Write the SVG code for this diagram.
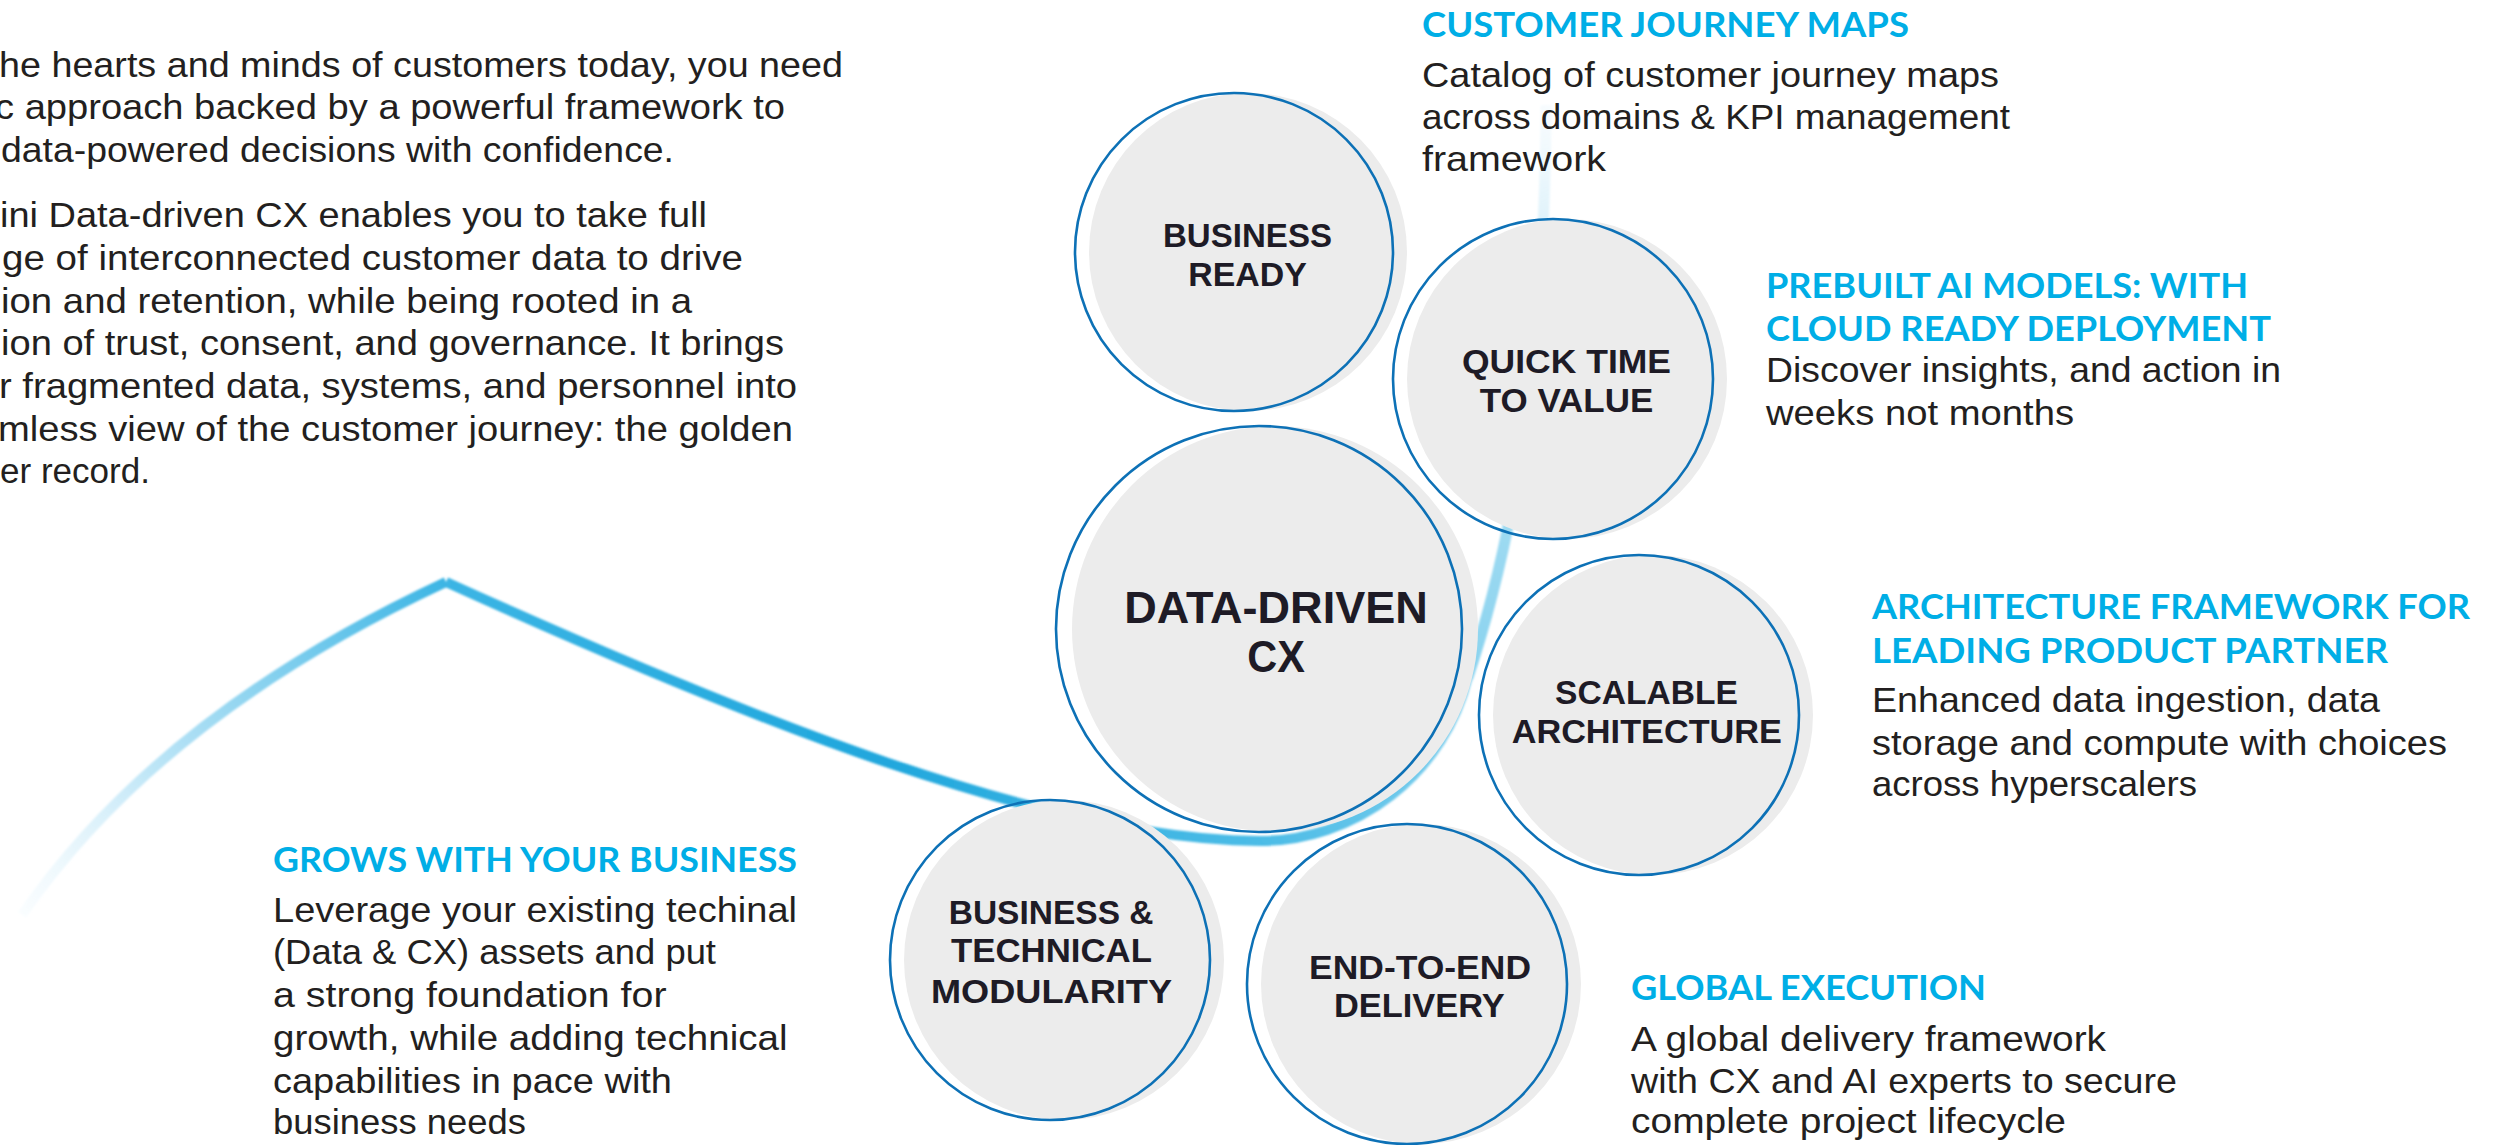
<svg xmlns="http://www.w3.org/2000/svg" width="2505" height="1145" viewBox="0 0 2505 1145">
<defs>
<style>
.p{font-family:"Liberation Sans","Noto Sans",sans-serif;font-size:35px;fill:#231f20;}
.h{font-family:Lato,"Liberation Sans",sans-serif;font-size:35px;font-weight:700;fill:#00aee6;}
.c{font-family:"Liberation Sans","Noto Sans",sans-serif;font-size:33.5px;font-weight:700;fill:#1e1b26;text-anchor:middle;}
.cl{font-size:44px;}
.shade{fill:#ececec;}
.ring{fill:none;stroke:#0d71b6;stroke-width:2.6;}
.sw{fill:none;stroke-linecap:butt;stroke-linejoin:round;}
</style>
<filter id="soft" x="-5%" y="-5%" width="110%" height="110%"><feGaussianBlur stdDeviation="0.9"/></filter>
<linearGradient id="gA" gradientUnits="userSpaceOnUse" x1="22" y1="915" x2="446" y2="582">
<stop offset="0" stop-color="#e6f5fc" stop-opacity="0.2"/>
<stop offset="0.35" stop-color="#bfe6f7"/>
<stop offset="1" stop-color="#3cb5e4"/>
</linearGradient>
<linearGradient id="gB" gradientUnits="userSpaceOnUse" x1="446" y1="582" x2="1259" y2="841">
<stop offset="0" stop-color="#3cb5e4"/>
<stop offset="0.55" stop-color="#20a7dd"/>
<stop offset="1" stop-color="#4cbce6"/>
</linearGradient>
<linearGradient id="gC" gradientUnits="userSpaceOnUse" x1="1259" y1="841" x2="1468" y2="678">
<stop offset="0" stop-color="#4cbce6"/>
<stop offset="1" stop-color="#8ad3ef"/>
</linearGradient>
<linearGradient id="gD" gradientUnits="userSpaceOnUse" x1="1468" y1="678" x2="1546" y2="105">
<stop offset="0" stop-color="#8ad3ef"/>
<stop offset="0.6" stop-color="#b6e3f5"/>
<stop offset="1" stop-color="#e6f5fc" stop-opacity="0.3"/>
</linearGradient>
</defs>

<g id="connectors" filter="url(#soft)">
<path class="sw" stroke="url(#gA)" stroke-width="10" d="M22 915 Q160 715 446 582"/>
<path class="sw" stroke="url(#gB)" stroke-width="10" d="M446 582 C750 720 1050 840 1259 841"/>
<path class="sw" stroke="url(#gC)" stroke-width="10" d="M1259 841 A215 215 0 0 0 1467.6 678"/>
<path class="sw" stroke="url(#gD)" stroke-width="11" d="M1467.6 678 Q1545 450 1546 105"/>
</g>

<g id="intro">
<text class="p" x="-1" y="77" textLength="844" lengthAdjust="spacingAndGlyphs">he hearts and minds of customers today, you need</text>
<text class="p" x="-5" y="119" textLength="790" lengthAdjust="spacingAndGlyphs">c approach backed by a powerful framework to</text>
<text class="p" x="1" y="162" textLength="673" lengthAdjust="spacingAndGlyphs">data-powered decisions with confidence.</text>
<text class="p" x="0" y="227" textLength="707" lengthAdjust="spacingAndGlyphs">ini Data-driven CX enables you to take full</text>
<text class="p" x="2" y="269.5" textLength="741" lengthAdjust="spacingAndGlyphs">ge of interconnected customer data to drive</text>
<text class="p" x="1" y="312.5" textLength="691" lengthAdjust="spacingAndGlyphs">ion and retention, while being rooted in a</text>
<text class="p" x="1" y="354.5" textLength="783" lengthAdjust="spacingAndGlyphs">ion of trust, consent, and governance. It brings</text>
<text class="p" x="-1" y="398" textLength="798" lengthAdjust="spacingAndGlyphs">r fragmented data, systems, and personnel into</text>
<text class="p" x="-2" y="440.5" textLength="795" lengthAdjust="spacingAndGlyphs">mless view of the customer journey: the golden</text>
<text class="p" x="0" y="483" textLength="150" lengthAdjust="spacingAndGlyphs">er record.</text>
</g>

<g id="business-ready">
<circle class="shade" cx="1248" cy="252" r="159"/>
<circle class="ring" cx="1234" cy="252" r="159"/>
<text class="c" x="1247.5" y="246.5" textLength="169" lengthAdjust="spacingAndGlyphs">BUSINESS</text>
<text class="c" x="1247.5" y="285.7" textLength="118.6" lengthAdjust="spacingAndGlyphs">READY</text>
</g>

<g id="quick-time-to-value">
<circle class="shade" cx="1567" cy="379" r="160"/>
<circle class="ring" cx="1553" cy="379" r="160"/>
<text class="c" x="1566.5" y="373" textLength="209" lengthAdjust="spacingAndGlyphs">QUICK TIME</text>
<text class="c" x="1566.5" y="411.8" textLength="173.4" lengthAdjust="spacingAndGlyphs">TO VALUE</text>
</g>

<g id="data-driven-cx">
<circle class="shade" cx="1275" cy="629" r="203"/>
<circle class="ring" cx="1259" cy="629" r="203"/>
<text class="c cl" x="1276" y="622.7" textLength="303.6" lengthAdjust="spacingAndGlyphs">DATA-DRIVEN</text>
<text class="c cl" x="1276" y="672.3" textLength="57.6" lengthAdjust="spacingAndGlyphs">CX</text>
</g>

<g id="scalable-architecture">
<circle class="shade" cx="1653" cy="715" r="160"/>
<circle class="ring" cx="1639" cy="715" r="160"/>
<text class="c" x="1646.5" y="704" textLength="182.8" lengthAdjust="spacingAndGlyphs">SCALABLE</text>
<text class="c" x="1646.8" y="742.7" textLength="270.3" lengthAdjust="spacingAndGlyphs">ARCHITECTURE</text>
</g>

<g id="business-technical-modularity">
<circle class="shade" cx="1064" cy="960" r="160"/>
<circle class="ring" cx="1050" cy="960" r="160"/>
<text class="c" x="1051.1" y="923.7" textLength="204.8" lengthAdjust="spacingAndGlyphs">BUSINESS &amp;</text>
<text class="c" x="1051.5" y="962.4" textLength="201" lengthAdjust="spacingAndGlyphs">TECHNICAL</text>
<text class="c" x="1051.5" y="1003" textLength="241" lengthAdjust="spacingAndGlyphs">MODULARITY</text>
</g>

<g id="end-to-end-delivery">
<circle class="shade" cx="1421" cy="984" r="160"/>
<circle class="ring" cx="1407" cy="984" r="160"/>
<text class="c" x="1420" y="979.3" textLength="222" lengthAdjust="spacingAndGlyphs">END-TO-END</text>
<text class="c" x="1419.4" y="1017.3" textLength="170.8" lengthAdjust="spacingAndGlyphs">DELIVERY</text>
</g>

<g id="customer-journey-maps">
<text class="h" x="1422" y="37" textLength="487" lengthAdjust="spacingAndGlyphs">CUSTOMER JOURNEY MAPS</text>
<text class="p" x="1422" y="87" textLength="577" lengthAdjust="spacingAndGlyphs">Catalog of customer journey maps</text>
<text class="p" x="1422" y="128.5" textLength="588" lengthAdjust="spacingAndGlyphs">across domains &amp; KPI management</text>
<text class="p" x="1422" y="170.5" textLength="184" lengthAdjust="spacingAndGlyphs">framework</text>
</g>

<g id="prebuilt-ai-models">
<text class="h" x="1766" y="298" textLength="482" lengthAdjust="spacingAndGlyphs">PREBUILT AI MODELS: WITH</text>
<text class="h" x="1766" y="340.6" textLength="505" lengthAdjust="spacingAndGlyphs">CLOUD READY DEPLOYMENT</text>
<text class="p" x="1766" y="382.4" textLength="515" lengthAdjust="spacingAndGlyphs">Discover insights, and action in</text>
<text class="p" x="1766" y="425" textLength="308" lengthAdjust="spacingAndGlyphs">weeks not months</text>
</g>

<g id="architecture-framework">
<text class="h" x="1872" y="619" textLength="598" lengthAdjust="spacingAndGlyphs">ARCHITECTURE FRAMEWORK FOR</text>
<text class="h" x="1872" y="663" textLength="516" lengthAdjust="spacingAndGlyphs">LEADING PRODUCT PARTNER</text>
<text class="p" x="1872" y="711.7" textLength="508" lengthAdjust="spacingAndGlyphs">Enhanced data ingestion, data</text>
<text class="p" x="1872" y="755" textLength="575" lengthAdjust="spacingAndGlyphs">storage and compute with choices</text>
<text class="p" x="1872" y="796" textLength="325" lengthAdjust="spacingAndGlyphs">across hyperscalers</text>
</g>

<g id="global-execution">
<text class="h" x="1631" y="1000" textLength="355" lengthAdjust="spacingAndGlyphs">GLOBAL EXECUTION</text>
<text class="p" x="1631" y="1050.7" textLength="475" lengthAdjust="spacingAndGlyphs">A global delivery framework</text>
<text class="p" x="1631" y="1092.7" textLength="546" lengthAdjust="spacingAndGlyphs">with CX and AI experts to secure</text>
<text class="p" x="1631" y="1133" textLength="435" lengthAdjust="spacingAndGlyphs">complete project lifecycle</text>
</g>

<g id="grows-with-your-business">
<text class="h" x="273" y="872" textLength="524" lengthAdjust="spacingAndGlyphs">GROWS WITH YOUR BUSINESS</text>
<text class="p" x="273" y="921.8" textLength="524" lengthAdjust="spacingAndGlyphs">Leverage your existing techinal</text>
<text class="p" x="273" y="964.4" textLength="443" lengthAdjust="spacingAndGlyphs">(Data &amp; CX) assets and put</text>
<text class="p" x="273" y="1007" textLength="393.5" lengthAdjust="spacingAndGlyphs">a strong foundation for</text>
<text class="p" x="273" y="1050" textLength="514.6" lengthAdjust="spacingAndGlyphs">growth, while adding technical</text>
<text class="p" x="273" y="1092.7" textLength="399" lengthAdjust="spacingAndGlyphs">capabilities in pace with</text>
<text class="p" x="273" y="1133.8" textLength="253" lengthAdjust="spacingAndGlyphs">business needs</text>
</g>
</svg>
